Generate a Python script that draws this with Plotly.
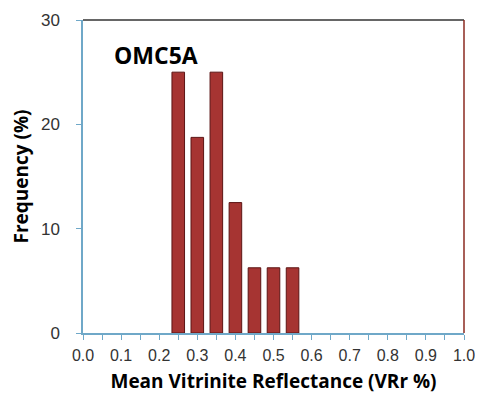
import plotly.graph_objects as go

reflectance = [0.25, 0.30, 0.35, 0.40, 0.45, 0.50, 0.55]
frequency = [25, 18.75, 25, 12.5, 6.25, 6.25, 6.25]
x_ticks = [0.0, 0.1, 0.2, 0.3, 0.4, 0.5, 0.6, 0.7, 0.8, 0.9, 1.0]
x_tick_labels = ["0.0", "0.1", "0.2", "0.3", "0.4", "0.5", "0.6", "0.7", "0.8", "0.9", "1.0"]
y_ticks = [0, 10, 20, 30]
sample_name = "OMC5A"

fig = go.Figure()
fig.add_trace(go.Bar(
    x=reflectance, y=frequency, width=0.033,
    marker=dict(color="#A63432", line=dict(color="#5C1414", width=1)),
))

fig.update_layout(
    width=483, height=386,
    margin=dict(l=75, r=27, t=12, b=61, autoexpand=False),
    paper_bgcolor="white", plot_bgcolor="white",
    showlegend=False,
    font=dict(family="Liberation Sans, Arial, sans-serif", color="#333"),
    shapes=[
        dict(type="line", xref="paper", yref="paper", x0=0, x1=1, y0=1, y1=1,
             line=dict(color="#333333", width=1.5)),
        dict(type="line", xref="paper", yref="paper", x0=1, x1=1, y0=0, y1=1,
             line=dict(color="#8B2A20", width=1.5)),
    ],
    annotations=[dict(text="<b>" + sample_name + "</b>", xref="paper", yref="paper",
                      x=0.075, y=0.888, xanchor="left", yanchor="middle", showarrow=False,
                      font=dict(family="Open Sans, sans-serif", size=23, color="black"))],
)
fig.update_xaxes(
    range=[0, 1], tickvals=x_ticks, ticktext=x_tick_labels,
    showline=True, linecolor="#6FA8C8", linewidth=1.5,
    ticks="outside", ticklen=5, tickcolor="#6FA8C8",
    minor=dict(dtick=0.05, ticks="outside", ticklen=5, tickcolor="#6FA8C8", showgrid=False),
    showgrid=False, zeroline=False, automargin=False,
    tickfont=dict(size=16, color="#333"), ticklabelstandoff=2,
    title=dict(text="<b>Mean Vitrinite Reflectance (VRr %)</b>", standoff=17,
               font=dict(family="Open Sans, sans-serif", size=19, color="black")),
)
fig.update_yaxes(
    range=[0, 30], tickvals=y_ticks,
    showline=True, linecolor="#6FA8C8", linewidth=1.5,
    ticks="outside", ticklen=5, tickcolor="#6FA8C8",
    showgrid=False, zeroline=False, automargin=False,
    tickfont=dict(size=17, color="#333"), ticklabelstandoff=13,
    title=dict(text="<b>Frequency (%)</b>", standoff=10,
               font=dict(family="Open Sans, sans-serif", size=19, color="black")),
)
fig.write_html("out.html")
